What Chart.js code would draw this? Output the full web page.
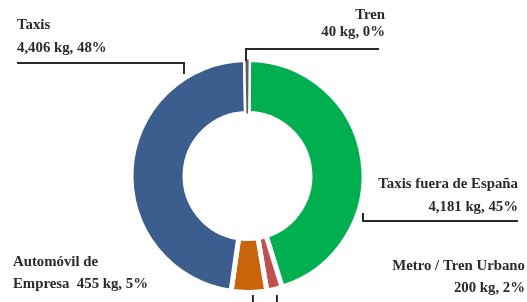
<!DOCTYPE html>
<html><head><meta charset="utf-8">
<script src="https://cdn.jsdelivr.net/npm/chart.js@4/dist/chart.umd.min.js"></script>
<style>html,body{margin:0;padding:0;background:#fff;overflow:hidden}#wrap{width:527px;height:302px;position:relative}</style>
</head><body><div id="wrap"><canvas id="c"></canvas></div>
<script>
// ---- data ----
const categories = ['Tren', 'Taxis fuera de España', 'Metro / Tren Urbano', 'Automóvil de Empresa', 'Taxis'];
const categoryLines = [['Tren'], ['Taxis fuera de España'], ['Metro / Tren Urbano'], ['Automóvil de', 'Empresa'], ['Taxis']];
const emissionsKg = [40, 4181, 200, 455, 4406];
const percentLabels = ['0%', '45%', '2%', '5%', '48%'];

// ---- styles / layout ----
const sliceColors = ['#5e5e5e', '#00b050', '#c0504d', '#c8650a', '#3b5e8f'];
const sliceBorders = [0, 5, 5, 5, 5];
const labelFont = 'bold 14.8px "Liberation Serif", serif';
const textColor = '#2a2a2a';
const lineColor = '#2a2a2a';
// text anchor (x, line centres), alignment; leader: angle (deg cw from top), distance from centre, line y, end x
const labelLayout = [
  {x: 385, ys: [15, 32],  align: 'right', ang: -0.75, dist: 115,  lineY: 49,  endX: 379},
  {x: 518, ys: [184, 207], align: 'right', ang: 107.8, dist: 121.3, lineY: 221, endX: 518},
  {x: 525, ys: [266, 288], align: 'right', ang: 166.1, dist: 122.6, lineY: 330, endX: null},
  {x: 13,  ys: [262, 284], align: 'left',  ang: 177.4, dist: 119.1, lineY: 330, endX: null},
  {x: 17,  ys: [25, 48],  align: 'left',  ang: 328.1, dist: 120.2, lineY: 63,  endX: 17}
];

function labelText(i) {
  const lines = categoryLines[i].slice();
  const val = emissionsKg[i].toLocaleString('en-US') + ' kg, ' + percentLabels[i];
  if (lines.length > 1) lines[lines.length - 1] += '  ' + val; else lines.push(val);
  return lines;
}

const leaderPlugin = {
  id: 'leaders',
  afterDatasetsDraw(chart) {
    const ctx = chart.ctx;
    const meta = chart.getDatasetMeta(0);
    // redraw the tiny slice on top of its neighbours, with its own white separator
    const el = meta.data[0];
    const saved = el.options;
    el.options = Object.assign({}, saved, {borderWidth: 5, borderColor: '#ffffff', borderAlign: 'center'});
    el.draw(ctx);
    el.options = Object.assign({}, saved, {borderWidth: 0});
    el.draw(ctx);
    el.options = saved;
    const cx = el.x, cy = el.y;
    ctx.save();
    ctx.font = labelFont;
    ctx.fillStyle = textColor;
    ctx.textBaseline = 'middle';
    labelLayout.forEach((L, i) => {
      const lines = labelText(i);
      ctx.textAlign = L.align;
      lines.forEach((t, k) => ctx.fillText(t, L.x, L.ys[k]));
      const a = L.ang * Math.PI / 180;
      const ax = cx + L.dist * Math.sin(a), ay = cy - L.dist * Math.cos(a);
      ctx.beginPath();
      ctx.strokeStyle = lineColor;
      ctx.lineWidth = 2;
      ctx.moveTo(ax, ay);
      ctx.lineTo(ax, L.lineY);
      if (L.endX !== null) ctx.lineTo(L.endX, L.lineY);
      ctx.stroke();
    });
    ctx.restore();
  }
};

new Chart(document.getElementById('c'), {
  type: 'doughnut',
  data: {
    labels: categories,
    datasets: [{
      data: emissionsKg,
      backgroundColor: sliceColors,
      borderColor: '#ffffff',
      borderWidth: sliceBorders,
      borderAlign: 'center',
      radius: 116.5,
      cutout: '53.6%',
      clip: false
    }]
  },
  options: {
    responsive: true,
    maintainAspectRatio: false,
    animation: false,
    rotation: -1,
    layout: {padding: {left: 131, right: 163, top: 59.5, bottom: 9.5}},
    plugins: {legend: {display: false}, tooltip: {enabled: false}, title: {display: false}}
  },
  plugins: [leaderPlugin]
});
</script>
</body></html>
